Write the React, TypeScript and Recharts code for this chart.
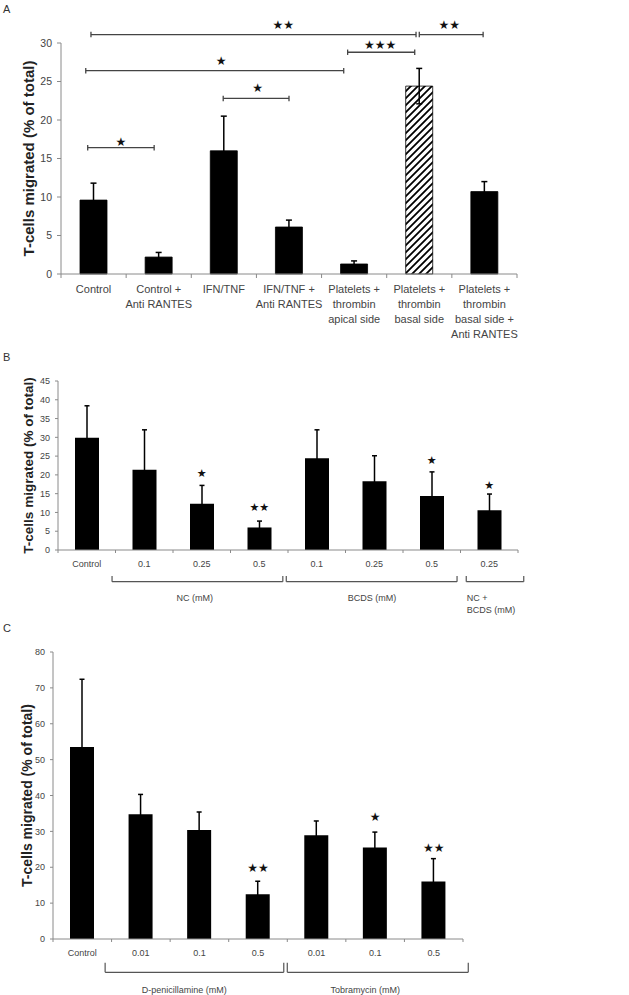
import React from 'react';
import { BarChart, Bar, XAxis, YAxis, ErrorBar, Cell, ReferenceLine, ReferenceDot } from 'recharts';

const FONT = '"Liberation Sans", Arial, Helvetica, sans-serif';
const AXIS = '#8a8a8a';
const TXT = '#444';
const YTITLE = 'T-cells migrated (% of total)';

// ---------- Panel A ----------
const catsA = [
  'Control',
  'Control +\nAnti RANTES',
  'IFN/TNF',
  'IFN/TNF +\nAnti RANTES',
  'Platelets +\nthrombin\napical side',
  'Platelets +\nthrombin\nbasal side',
  'Platelets +\nthrombin\nbasal side +\nAnti RANTES',
];
const valsA = [9.6, 2.2, 16.0, 6.1, 1.3, 24.4, 10.7];
const errA = [2.2, 0.6, 4.5, 0.9, 0.4, 2.3, 1.3];
const hatchA = [false, false, false, false, false, true, false];
const ticksA = [0, 5, 10, 15, 20, 25, 30];
// significance brackets: [xStart, xEnd, y]
const bracketsA: [number, number, number][] = [
  [-0.04, 4.95, 31.1],
  [5.0, 5.98, 31.1],
  [3.9, 4.93, 28.8],
  [-0.12, 3.84, 26.4],
  [1.99, 3.0, 22.8],
  [-0.09, 0.93, 16.4],
];
// significance marks: [text, x, y]
const starsA: [string, number, number][] = [
  ['★★', 2.91, 32.4],
  ['★★', 5.46, 32.4],
  ['★★★', 4.4, 29.7],
  ['★', 1.96, 27.7],
  ['★', 2.52, 24.1],
  ['★', 0.42, 17.2],
];

// ---------- Panel B ----------
const catsB = ['Control', '0.1', '0.25', '0.5', '0.1', '0.25', '0.5', '0.25'];
const valsB = [29.9, 21.4, 12.3, 6.0, 24.4, 18.3, 14.4, 10.6];
const errB = [8.5, 10.6, 4.9, 1.7, 7.6, 6.8, 6.4, 4.3];
const ticksB = [0, 5, 10, 15, 20, 25, 30, 35, 40, 45];
const starsB: [string, number, number][] = [
  ['★', 2, 20.4],
  ['★★', 3, 11.25],
  ['★', 6, 23.75],
  ['★', 7, 17.3],
];
// group brackets: [xStart, xEnd]
const groupsB: [number, number][] = [
  [0.44, 3.41],
  [3.47, 6.44],
  [6.6, 7.6],
];
// group labels: [text, x, y, anchor]
const groupLabelsB: [string, number, number, string][] = [
  ['NC (mM)', 1.88, -12.8, 'middle'],
  ['BCDS (mM)', 4.96, -12.8, 'middle'],
  ['NC +', 6.61, -12.8, 'start'],
  ['BCDS (mM)', 6.61, -16.0, 'start'],
];

// ---------- Panel C ----------
const catsC = ['Control', '0.01', '0.1', '0.5', '0.01', '0.1', '0.5'];
const valsC = [53.5, 34.8, 30.4, 12.5, 28.9, 25.5, 16.0];
const errC = [18.9, 5.5, 5.0, 3.6, 4.0, 4.3, 6.4];
const ticksC = [0, 10, 20, 30, 40, 50, 60, 70, 80];
const starsC: [string, number, number][] = [
  ['★★', 3, 19.8],
  ['★', 5, 34.1],
  ['★★', 6, 25.5],
];
const groupsC: [number, number][] = [
  [0.39, 3.44],
  [3.5, 6.59],
];
const groupLabelsC: [string, number, number, string][] = [
  ['D-penicillamine (mM)', 1.74, -14.1, 'middle'],
  ['Tobramycin (mM)', 4.83, -14.1, 'middle'],
];

const buildData = (cats: string[], vals: number[], errs: number[], hatch?: boolean[]) =>
  cats.map((c, i) => ({ id: String(i), idx: i, label: c, value: vals[i], err: errs[i], hatch: hatch ? hatch[i] : false }));

const dataA = buildData(catsA, valsA, errA, hatchA);
const dataB = buildData(catsB, valsB, errB);
const dataC = buildData(catsC, valsC, errC);

function makeTick(cats: string[], plotW: number, fontSize: number, lineH: number, firstDy: number, tickLen: number) {
  const n = cats.length;
  const half = plotW / n / 2;
  return (props: any) => {
    const { x, y, index, payload } = props;
    const i = index !== undefined ? index : Number(payload.value);
    const lines = cats[i].split('\n');
    return (
      <g>
        <line x1={x - half} y1={y} x2={x - half} y2={y + tickLen} stroke={AXIS} strokeWidth={1} />
        {i === n - 1 && <line x1={x + half} y1={y} x2={x + half} y2={y + tickLen} stroke={AXIS} strokeWidth={1} />}
        <text x={x} y={y + firstDy} textAnchor="middle" fontSize={fontSize} fill={TXT} fontFamily={FONT}>
          {lines.map((l, k) => (
            <tspan key={k} x={x} dy={k === 0 ? 0 : lineH}>
              {l}
            </tspan>
          ))}
        </text>
      </g>
    );
  };
}

const yLabel = (fontSize: number, cx: number) => ({
  content: (p: any) => {
    const vb = p.viewBox || { y: 0, height: 0 };
    const cy = vb.y + vb.height / 2;
    return (
      <text
        x={cx}
        y={cy}
        transform={`rotate(-90 ${cx} ${cy})`}
        textAnchor="middle"
        dominantBaseline="central"
        fontSize={fontSize}
        fontWeight="bold"
        fill="#222"
        fontFamily={FONT}
      >
        {YTITLE}
      </text>
    );
  },
});

const starShape = (text: string, fontSize: number) => (p: any) => (
  <text x={p.cx} y={p.cy} textAnchor="middle" dominantBaseline="central" fontSize={fontSize} fill="#111" fontFamily='"DejaVu Sans", sans-serif'>
    {text}
  </text>
);

const labelShape = (text: string, anchor: string, fontSize: number) => (p: any) => (
  <text x={p.cx} y={p.cy} textAnchor={anchor as any} dominantBaseline="central" fontSize={fontSize} fill={TXT} fontFamily={FONT}>
    {text}
  </text>
);

function sigBrackets(list: [number, number, number][], cap: number) {
  const out: React.ReactNode[] = [];
  list.forEach(([a, b, y], i) => {
    const common = { xAxisId: 'n', ifOverflow: 'visible' as const, stroke: '#444', strokeWidth: 1.3 };
    out.push(<ReferenceLine key={`h${i}`} {...common} segment={[{ x: a, y }, { x: b, y }]} />);
    out.push(<ReferenceLine key={`l${i}`} {...common} segment={[{ x: a, y: y - cap }, { x: a, y: y + cap }]} />);
    out.push(<ReferenceLine key={`r${i}`} {...common} segment={[{ x: b, y: y - cap }, { x: b, y: y + cap }]} />);
  });
  return out;
}

function groupBrackets(list: [number, number][], yLow: number, yHigh: number) {
  const out: React.ReactNode[] = [];
  list.forEach(([a, b], i) => {
    const common = { xAxisId: 'n', ifOverflow: 'visible' as const, stroke: '#555', strokeWidth: 1.2 };
    out.push(<ReferenceLine key={`gh${i}`} {...common} segment={[{ x: a, y: yLow }, { x: b, y: yLow }]} />);
    out.push(<ReferenceLine key={`gl${i}`} {...common} segment={[{ x: a, y: yLow }, { x: a, y: yHigh }]} />);
    out.push(<ReferenceLine key={`gr${i}`} {...common} segment={[{ x: b, y: yLow }, { x: b, y: yHigh }]} />);
  });
  return out;
}

function stars(list: [string, number, number][], fontSize: number) {
  return list.map(([t, x, y], i) => (
    <ReferenceDot key={`s${i}`} xAxisId="n" x={x} y={y} r={0} ifOverflow="visible" shape={starShape(t, fontSize)} />
  ));
}

function groupLabels(list: [string, number, number, string][], fontSize: number) {
  return list.map(([t, x, y, a], i) => (
    <ReferenceDot key={`g${i}`} xAxisId="n" x={x} y={y} r={0} ifOverflow="visible" shape={labelShape(t, a, fontSize)} />
  ));
}

const panelLetter = (ch: string, top: number) => (
  <div style={{ position: 'absolute', left: 3, top, fontFamily: FONT, fontSize: 11, color: '#333' }}>{ch}</div>
);

export default function App() {
  return (
    <div style={{ position: 'absolute', left: 0, top: 0, width: 629, height: 995, background: '#fff', overflow: 'hidden' }}>
      <svg width={0} height={0} style={{ position: 'absolute' }}>
        <defs>
          <pattern id="hatch" patternUnits="userSpaceOnUse" width={7} height={7}>
            <rect width={7} height={7} fill="#fff" />
            <path d="M-1,1 l2,-2 M0,7 l7,-7 M6,8 l2,-2" stroke="#000" strokeWidth={1.8} />
          </pattern>
        </defs>
      </svg>

      {panelLetter('A', 3)}
      {panelLetter('B', 351)}
      {panelLetter('C', 622)}

      {/* Panel A */}
      <div style={{ position: 'absolute', left: 0, top: 0 }}>
        <BarChart width={629} height={340} data={dataA} margin={{ top: 43, right: 112, left: 0, bottom: 0 }}>
          <XAxis
            dataKey="id"
            height={66}
            interval={0}
            tickSize={0}
            tickMargin={0}
            tickLine={false}
            axisLine={{ stroke: AXIS }}
            tick={makeTick(catsA, 456, 11, 15, 19, 4)}
          />
          <XAxis xAxisId="n" type="number" dataKey="idx" domain={[-0.5, 6.5]} allowDataOverflow hide />
          <YAxis
            width={61}
            domain={[0, 30]}
            ticks={ticksA}
            interval={0}
            tickSize={4}
            tickMargin={5}
            axisLine={{ stroke: AXIS }}
            tickLine={{ stroke: AXIS }}
            tick={{ fontSize: 10.5, fill: TXT, fontFamily: FONT }}
            label={yLabel(15, 28)}
          />
          <Bar dataKey="value" barSize={27} isAnimationActive={false} stroke="#000" strokeWidth={0.8}>
            {dataA.map((d, i) => (
              <Cell key={i} fill={d.hatch ? 'url(#hatch)' : '#000'} />
            ))}
            <ErrorBar dataKey="err" width={3} stroke="#000" strokeWidth={1.5} />
          </Bar>
          {sigBrackets(bracketsA, 0.35)}
          {stars(starsA, 12)}
        </BarChart>
      </div>

      {/* Panel B */}
      <div style={{ position: 'absolute', left: 0, top: 340 }}>
        <BarChart width={629} height={285} data={dataB} margin={{ top: 41, right: 111, left: 0, bottom: 0 }}>
          <XAxis
            dataKey="id"
            height={75}
            interval={0}
            tickSize={0}
            tickMargin={0}
            tickLine={false}
            axisLine={{ stroke: AXIS }}
            tick={makeTick(catsB, 460, 9, 12, 17, 3)}
          />
          <XAxis xAxisId="n" type="number" dataKey="idx" domain={[-0.5, 7.5]} allowDataOverflow hide />
          <YAxis
            width={58}
            domain={[0, 45]}
            ticks={ticksB}
            interval={0}
            tickSize={3}
            tickMargin={5}
            axisLine={{ stroke: AXIS }}
            tickLine={{ stroke: AXIS }}
            tick={{ fontSize: 9, fill: TXT, fontFamily: FONT }}
            label={yLabel(13.5, 28)}
          />
          <Bar dataKey="value" barSize={24} fill="#000" isAnimationActive={false}>
            <ErrorBar dataKey="err" width={2.5} stroke="#000" strokeWidth={1.5} />
          </Bar>
          {stars(starsB, 11)}
          {groupBrackets(groupsB, -8.43, -6.9)}
          {groupLabels(groupLabelsB, 9)}
        </BarChart>
      </div>

      {/* Panel C */}
      <div style={{ position: 'absolute', left: 0, top: 625 }}>
        <BarChart width={629} height={370} data={dataC} margin={{ top: 27, right: 166, left: 0, bottom: 0 }}>
          <XAxis
            dataKey="id"
            height={56}
            interval={0}
            tickSize={0}
            tickMargin={0}
            tickLine={false}
            axisLine={{ stroke: AXIS }}
            tick={makeTick(catsC, 410, 9, 12, 17, 3)}
          />
          <XAxis xAxisId="n" type="number" dataKey="idx" domain={[-0.5, 6.5]} allowDataOverflow hide />
          <YAxis
            width={53}
            domain={[0, 80]}
            ticks={ticksC}
            interval={0}
            tickSize={3}
            tickMargin={5}
            axisLine={{ stroke: AXIS }}
            tickLine={{ stroke: AXIS }}
            tick={{ fontSize: 9, fill: TXT, fontFamily: FONT }}
            label={yLabel(14, 27)}
          />
          <Bar dataKey="value" barSize={24} fill="#000" isAnimationActive={false}>
            <ErrorBar dataKey="err" width={2.5} stroke="#000" strokeWidth={1.5} />
          </Bar>
          {stars(starsC, 12)}
          {groupBrackets(groupsC, -9.3, -6.6)}
          {groupLabels(groupLabelsC, 9)}
        </BarChart>
      </div>
    </div>
  );
}
